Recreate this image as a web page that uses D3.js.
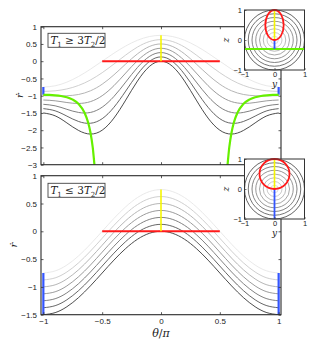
<!DOCTYPE html>
<html lang="en">
<head>
<meta charset="UTF-8">
<title>rdot vs theta</title>
<script src="https://cdn.jsdelivr.net/npm/d3@7"></script>
<style>
  body { margin: 0; background: #fff; }
  svg text { font-family: "Liberation Sans", Arial, sans-serif; fill: #222; }
  .tex { font-family: "DejaVu Serif", "Liberation Serif", serif; font-style: italic; }
  .rm { font-style: normal; }
</style>
</head>
<body>
<svg id="fig" width="310" height="354"></svg>
<script>
// ---- data ----
var thetaGrid = [-1,-0.9,-0.8,-0.7,-0.6,-0.5,-0.4,-0.3,-0.2,-0.1,0,0.1,0.2,0.3,0.4,0.5,0.6,0.7,0.8,0.9,1];

// top panel, T1 >= 3T2/2 (lightest curve first)
var topRdot = [
  [-0.750,-0.713,-0.607,-0.441,-0.232,0,0.232,0.441,0.607,0.713,0.750,0.713,0.607,0.441,0.232,0,-0.232,-0.441,-0.607,-0.713,-0.750],
  [-0.875,-0.858,-0.804,-0.702,-0.545,-0.333,-0.082,0.179,0.410,0.568,0.625,0.568,0.410,0.179,-0.082,-0.333,-0.545,-0.702,-0.804,-0.858,-0.875],
  [-1.000,-1.003,-1.001,-0.964,-0.859,-0.667,-0.395,-0.082,0.213,0.424,0.500,0.424,0.213,-0.082,-0.395,-0.667,-0.859,-0.964,-1.001,-1.003,-1.000],
  [-1.125,-1.148,-1.198,-1.225,-1.172,-1.000,-0.709,-0.343,0.016,0.279,0.375,0.279,0.016,-0.343,-0.709,-1.000,-1.172,-1.225,-1.198,-1.148,-1.125],
  [-1.250,-1.293,-1.395,-1.486,-1.486,-1.333,-1.022,-0.605,-0.181,0.134,0.250,0.134,-0.181,-0.605,-1.022,-1.333,-1.486,-1.486,-1.395,-1.293,-1.250],
  [-1.375,-1.438,-1.592,-1.748,-1.799,-1.667,-1.335,-0.866,-0.378,-0.011,0.125,-0.011,-0.378,-0.866,-1.335,-1.667,-1.799,-1.748,-1.592,-1.438,-1.375],
  [-1.500,-1.583,-1.789,-2.009,-2.112,-2.000,-1.649,-1.127,-0.575,-0.156,0.000,-0.156,-0.575,-1.127,-1.649,-2.000,-2.112,-2.009,-1.789,-1.583,-1.500]
];

// bottom panel, T1 <= 3T2/2
var bottomRdot = [
  [-0.750,-0.713,-0.607,-0.441,-0.232,0,0.232,0.441,0.607,0.713,0.750,0.713,0.607,0.441,0.232,0,-0.232,-0.441,-0.607,-0.713,-0.750],
  [-0.875,-0.838,-0.732,-0.566,-0.357,-0.125,0.107,0.316,0.482,0.588,0.625,0.588,0.482,0.316,0.107,-0.125,-0.357,-0.566,-0.732,-0.838,-0.875],
  [-1.000,-0.963,-0.857,-0.691,-0.482,-0.250,-0.018,0.191,0.357,0.463,0.500,0.463,0.357,0.191,-0.018,-0.250,-0.482,-0.691,-0.857,-0.963,-1.000],
  [-1.125,-1.088,-0.982,-0.816,-0.607,-0.375,-0.143,0.066,0.232,0.338,0.375,0.338,0.232,0.066,-0.143,-0.375,-0.607,-0.816,-0.982,-1.088,-1.125],
  [-1.250,-1.213,-1.107,-0.941,-0.732,-0.500,-0.268,-0.059,0.107,0.213,0.250,0.213,0.107,-0.059,-0.268,-0.500,-0.732,-0.941,-1.107,-1.213,-1.250],
  [-1.375,-1.338,-1.232,-1.066,-0.857,-0.625,-0.393,-0.184,-0.018,0.088,0.125,0.088,-0.018,-0.184,-0.393,-0.625,-0.857,-1.066,-1.232,-1.338,-1.375],
  [-1.500,-1.463,-1.357,-1.191,-0.982,-0.750,-0.518,-0.309,-0.143,-0.037,0.000,-0.037,-0.143,-0.309,-0.518,-0.750,-0.982,-1.191,-1.357,-1.463,-1.500]
];

// green branches (top panel only)
var greenThetaLeft  = [-1,-0.95,-0.9,-0.85,-0.8,-0.75,-0.7,-0.65,-0.62,-0.6,-0.58,-0.565];
var greenRdotLeft   = [-0.975,-0.978,-0.988,-1.008,-1.045,-1.114,-1.241,-1.492,-1.768,-2.058,-2.506,-3.035];
var greenThetaRight = [0.565,0.58,0.6,0.62,0.65,0.7,0.75,0.8,0.85,0.9,0.95,1];
var greenRdotRight  = [-3.035,-2.506,-2.058,-1.768,-1.492,-1.241,-1.114,-1.045,-1.008,-0.988,-0.978,-0.975];

var redTheta = [-0.5, 0.5], redRdot = [0, 0];
var yellowRdot = [0, 0.75];
var blueRdotTop = [-0.75, -0.975];
var blueRdotBottom = [-0.75, -1.5];

var xTicks = [-1, -0.5, 0, 0.5, 1];
var topYTicks = [1, 0.5, 0, -0.5, -1, -1.5, -2, -2.5, -3];
var bottomYTicks = [1, 0.5, 0, -0.5, -1, -1.5];

// insets (y-z plane)
var ringRadii = [0.125, 0.25, 0.375, 0.5, 0.625, 0.75, 0.875, 1];
var insetTicks = [-1, 0, 1];
var topEllipse = [0.306, 0.5];     // half-width in y, half-height in z, centred at z = 0.5
var bottomEllipse = [0.5, 0.5];
var insetYellowZ = [0, 1];
var insetBlueTopZ = [-0.3, 0];
var insetBlueBottomZ = [-1, 0];
var insetGreenZ = -0.3;

// ---- styles ----
var curveColors = ["#e6e6e6","#cacaca","#adadad","#909090","#737373","#555555","#383838"];
var RED = "#ff1a1a", YELLOW = "#f5f500", GREEN = "#66f000", BLUE = "#3355ff";
var fmt = d3.format("~g");

var svg = d3.select("#fig");
var x = d3.scaleLinear().domain([-1.02, 1.02]).range([41, 281]);

function drawPanel(id, yDomain, yRange, curves, yTicks, blueRdot, showXLabels) {
    var y = d3.scaleLinear().domain(yDomain).range(yRange);
    var g = svg.append("g");

    g.append("clipPath").attr("id", "clip" + id)
      .append("rect")
        .attr("x", 41).attr("y", yRange[1])
        .attr("width", 240).attr("height", yRange[0] - yRange[1]);

    var plot = g.append("g").attr("clip-path", "url(#clip" + id + ")");

    var line = d3.line()
        .x(function(d, i){ return x(thetaGrid[i]); })
        .y(function(d){ return y(d); })
        .curve(d3.curveNatural);

    plot.selectAll("path.c")
      .data(curves)
      .enter().append("path")
        .attr("class", "c")
        .attr("d", line)
        .attr("fill", "none")
        .attr("stroke", function(d, i){ return curveColors[i]; })
        .attr("stroke-width", 0.9);

    var seg = d3.line().x(function(d){ return x(d[0]); }).y(function(d){ return y(d[1]); });

    // red r'=0 segment
    plot.append("path")
        .attr("d", seg(redTheta.map(function(t, i){ return [t, redRdot[i]]; })))
        .attr("stroke", RED).attr("stroke-width", 2);
    // yellow at theta = 0
    plot.append("path")
        .attr("d", seg(yellowRdot.map(function(v){ return [0, v]; })))
        .attr("stroke", YELLOW).attr("stroke-width", 1.6);
    // blue at theta = +-1
    [-1, 1].forEach(function(t){
        plot.append("path")
            .attr("d", seg(blueRdot.map(function(v){ return [t, v]; })))
            .attr("stroke", BLUE).attr("stroke-width", 2.2);
    });

    // axes, ticks inside
    var left = g.append("g").attr("transform", "translate(41,0)")
        .call(d3.axisLeft(y).tickValues(yTicks).tickSizeInner(-2.5).tickSizeOuter(0).tickPadding(4).tickFormat(fmt));
    var right = g.append("g").attr("transform", "translate(281,0)")
        .call(d3.axisRight(y).tickValues(yTicks).tickSizeInner(-2.5).tickSizeOuter(0).tickFormat(""));
    var bottom = g.append("g").attr("transform", "translate(0," + yRange[0] + ")")
        .call(d3.axisBottom(x).tickValues(xTicks).tickSizeInner(-2.5).tickSizeOuter(0).tickPadding(4)
            .tickFormat(showXLabels ? fmt : ""));
    var top = g.append("g").attr("transform", "translate(0," + yRange[1] + ")")
        .call(d3.axisTop(x).tickValues(xTicks).tickSizeInner(-2.5).tickSizeOuter(0).tickFormat(""));

    [left, right, bottom, top].forEach(function(a){
        a.select(".domain").remove();
        a.selectAll("line").attr("stroke", "#333").attr("stroke-width", 0.8);
        a.selectAll("text").attr("font-size", 8).attr("fill", "#222")
            .attr("font-family", "'Liberation Sans', Arial, sans-serif");
        if (a === right || a === top || (a === bottom && !showXLabels)) a.selectAll("text").remove();
    });

    g.append("rect")
        .attr("x", 41).attr("y", yRange[1])
        .attr("width", 240).attr("height", yRange[0] - yRange[1])
        .attr("fill", "none").attr("stroke", "#2a2a2a").attr("stroke-width", 1.1);

    return { g: g, plot: plot, y: y };
}

var topP = drawPanel("top", [-3, 1], [164.7, 26.7], topRdot, topYTicks, blueRdotTop, false);
var botP = drawPanel("bot", [-1.5, 1], [314.7, 175.7], bottomRdot, bottomYTicks, blueRdotBottom, true);

// green branches on the top panel
var greenLine = d3.line()
    .x(function(d){ return x(d[0]); })
    .y(function(d){ return topP.y(d[1]); })
    .curve(d3.curveMonotoneX);
[[greenThetaLeft, greenRdotLeft], [greenThetaRight, greenRdotRight]].forEach(function(b){
    topP.plot.append("path")
        .attr("d", greenLine(b[0].map(function(t, i){ return [t, b[1][i]]; })))
        .attr("fill", "none").attr("stroke", GREEN).attr("stroke-width", 2.2);
});

// legend boxes: pieces laid out one after another
function legend(yTop, rel) {
    svg.append("rect")
        .attr("x", 48).attr("y", yTop).attr("width", 57).attr("height", 14)
        .attr("fill", "#fff").attr("stroke", "#444").attr("stroke-width", 0.9);
    var pieces = [
        { s: "T", it: true, fs: 10.5, dy: 0 },
        { s: "1", it: false, fs: 7, dy: 2.5 },
        { s: " " + rel + " 3", it: false, fs: 10.5, dy: 0 },
        { s: "T", it: true, fs: 10.5, dy: 0 },
        { s: "2", it: false, fs: 7, dy: 2.5 },
        { s: "/2", it: false, fs: 10.5, dy: 0 }
    ];
    var cx = 50.5;
    pieces.forEach(function(p){
        var t = svg.append("text").attr("class", p.it ? "tex" : "tex rm")
            .attr("x", cx).attr("y", yTop + 10.8 + p.dy)
            .attr("font-size", p.fs)
            .attr("xml:space", "preserve")
            .style("white-space", "pre")
            .text(p.s);
        cx += t.node().getComputedTextLength() + (p.it ? -0.3 : 0.1);
    });
}
legend(33.3, "\u2265");
legend(183.3, "\u2264");

// axis labels
function ylab(xp, yp) {
    svg.append("text").attr("class", "tex")
        .attr("transform", "translate(" + xp + "," + yp + ") rotate(-90)")
        .attr("text-anchor", "middle").attr("font-size", 10).text("\u1e59");
}
ylab(23, 95.7);
ylab(17, 245.2);

var xl = svg.append("text").attr("class", "tex")
    .attr("x", 161).attr("y", 336.5).attr("text-anchor", "middle").attr("font-size", 11);
xl.append("tspan").text("\u03b8");
xl.append("tspan").attr("class", "rm").text("/");
xl.append("tspan").text("\u03c0");

// insets
function inset(yTop, ell, blueZ, withGreen) {
    var ix = d3.scaleLinear().domain([-1, 1]).range([244.5, 304.5]);
    var iz = d3.scaleLinear().domain([-1, 1]).range([yTop + 60, yTop]);
    var g = svg.append("g");
    var ringColor = d3.scaleLinear().domain([0.125, 1]).range(["#d2d2d2", "#3a3a3a"]);

    g.append("rect").attr("x", ix(-1)).attr("y", iz(1)).attr("width", 60).attr("height", 60).attr("fill", "#fff");

    g.selectAll("circle.ring")
      .data(ringRadii)
      .enter().append("circle")
        .attr("class", "ring")
        .attr("cx", ix(0)).attr("cy", iz(0))
        .attr("r", function(d){ return ix(d) - ix(0); })
        .attr("fill", "none")
        .attr("stroke", function(d){ return ringColor(d); })
        .attr("stroke-width", 0.8);

    if (withGreen) {
        g.append("line")
            .attr("x1", ix(-1)).attr("x2", ix(1))
            .attr("y1", iz(insetGreenZ)).attr("y2", iz(insetGreenZ))
            .attr("stroke", GREEN).attr("stroke-width", 2);
    }
    g.append("line")
        .attr("x1", ix(0)).attr("x2", ix(0))
        .attr("y1", iz(blueZ[0])).attr("y2", iz(blueZ[1]))
        .attr("stroke", BLUE).attr("stroke-width", 1.8);
    g.append("line")
        .attr("x1", ix(0)).attr("x2", ix(0))
        .attr("y1", iz(insetYellowZ[0])).attr("y2", iz(insetYellowZ[1]))
        .attr("stroke", YELLOW).attr("stroke-width", 1.6);
    g.append("ellipse")
        .attr("cx", ix(0)).attr("cy", iz(0.5))
        .attr("rx", ix(ell[0]) - ix(0)).attr("ry", iz(0) - iz(ell[1]))
        .attr("fill", "none").attr("stroke", RED).attr("stroke-width", 1.8);

    var axL = g.append("g").attr("transform", "translate(" + ix(-1) + ",0)")
        .call(d3.axisLeft(iz).tickValues(insetTicks).tickSizeInner(-2).tickSizeOuter(0).tickPadding(2.5).tickFormat(fmt));
    var axB = g.append("g").attr("transform", "translate(0," + iz(-1) + ")")
        .call(d3.axisBottom(ix).tickValues(insetTicks).tickSizeInner(-2).tickSizeOuter(0).tickPadding(2).tickFormat(fmt));
    [axL, axB].forEach(function(a){
        a.select(".domain").remove();
        a.selectAll("line").attr("stroke", "#333").attr("stroke-width", 0.7);
        a.selectAll("text").attr("font-size", 7.5).attr("fill", "#222")
            .attr("font-family", "'Liberation Sans', Arial, sans-serif");
    });

    g.append("rect").attr("x", ix(-1)).attr("y", iz(1)).attr("width", 60).attr("height", 60)
        .attr("fill", "none").attr("stroke", "#333").attr("stroke-width", 1);

    g.append("text").attr("class", "tex")
        .attr("transform", "translate(229," + iz(0) + ") rotate(-90)")
        .attr("text-anchor", "middle").attr("font-size", 9).text("z");
    g.append("text").attr("class", "tex")
        .attr("x", ix(0)).attr("y", yTop + 77)
        .attr("text-anchor", "middle").attr("font-size", 9).text("y");
}
inset(10, topEllipse, insetBlueTopZ, true);
inset(159, bottomEllipse, insetBlueBottomZ, false);
</script>
</body>
</html>
